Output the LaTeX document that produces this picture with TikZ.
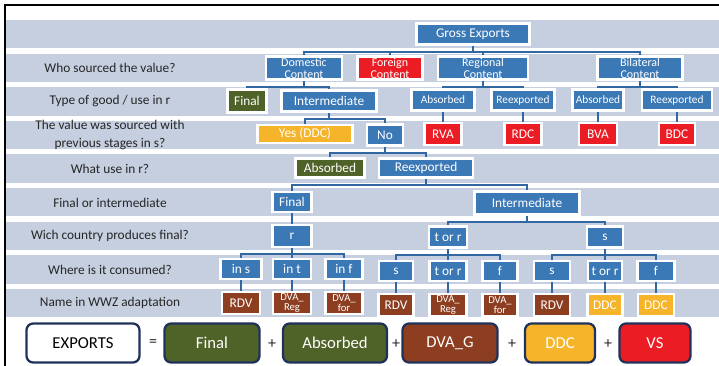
\documentclass[tikz,border=0pt]{standalone}
\usepackage{fontspec}
\setmainfont{Carlito}
\definecolor{bandgray}{RGB}{197,207,223}
\definecolor{boxblue}{RGB}{59,120,182}
\definecolor{linkblue}{RGB}{50,104,162}
\definecolor{boxgreen}{RGB}{79,98,40}
\definecolor{boxred}{RGB}{236,28,36}
\definecolor{boxyellow}{RGB}{245,180,42}
\definecolor{boxbrown}{RGB}{142,62,32}
\definecolor{navyline}{RGB}{33,50,90}
\definecolor{labeltext}{RGB}{38,38,38}
\pgfdeclarelayer{bands}
\pgfdeclarelayer{links}
\pgfsetlayers{bands,links,main}

\begin{document}
\begin{tikzpicture}[x=0.75pt,y=0.75pt,yscale=-1,xscale=1,
  bw/.style={minimum width=#1*0.75pt},
  bh/.style={minimum height=#1*0.75pt},
  tree/.style={draw=white,line width=1.6pt,text=white,inner sep=1pt,align=center,bh=21,font=\fontsize{10}{9}\selectfont},
  bluebox/.style={tree,fill=boxblue},
  greenbox/.style={tree,fill=boxgreen},
  redbox/.style={tree,fill=boxred},
  yellowbox/.style={tree,fill=boxyellow},
  brownbox/.style={tree,fill=boxbrown,bh=22},
  twoline/.style={font=\fontsize{9}{9}\selectfont},
  smalltxt/.style={font=\fontsize{8.5}{9}\selectfont},
  dvatxt/.style={font=\fontsize{8}{7.5}\selectfont},
  qlabel/.style={text=labeltext,align=center,font=\fontsize{10}{13}\selectfont},
  sumbox/.style={draw=navyline,line width=1.7pt,rounded corners=5pt,text=white,bh=39,inner sep=1pt,font=\fontsize{12.5}{13}\selectfont},
  opsign/.style={text=labeltext,font=\fontsize{12}{13}\selectfont},
  conn/.style={draw=linkblue,line width=1.5pt}
]
\useasboundingbox (0,0) rectangle (719,366);

% frame and row bands
\draw [line width=0.8pt] (719,5) -- (5,5) -- (5,366);
\begin{pgfonlayer}{bands}
\foreach \i in {0,...,8}
  \fill [bandgray] (6,{20+33.6*\i}) rectangle (719,{48.5+33.6*\i});
\end{pgfonlayer}

% questions
\node [qlabel] (qsrc) at (110,68) {Who sourced the value?};
\node [qlabel] (qgood) at (110,101) {Type of good / use in r};
\node [qlabel] (qprev) at (110,135) {The value was sourced with\\previous stages in s?};
\node [qlabel] (quse) at (110,169) {What use in r?};
\node [qlabel] (qfin) at (110,203) {Final or intermediate};
\node [qlabel] (qctry) at (110,236) {Wich country produces final?};
\node [qlabel] (qcons) at (110,270) {Where is it consumed?};
\node [qlabel] (qname) at (110,303) {Name in WWZ adaptation};

% tree
\node [bluebox,bw=113] (gross) at (473,34) {Gross Exports};
\node [bluebox,bw=76,bh=23,twoline] (dom) at (304,68) {Domestic\\Content};
\node [redbox,bw=65,bh=23,twoline] (forn) at (390,68) {Foreign\\Content};
\node [bluebox,bw=90,bh=23,twoline] (regn) at (483,68) {Regional\\Content};
\node [bluebox,bw=85,bh=23,twoline] (bilat) at (640,68) {Bilateral\\Content};

\node [greenbox,bw=39,bh=23] (dfin) at (247,101) {Final};
\node [bluebox,bw=95] (dint) at (329,101) {Intermediate};
\node [bluebox,bw=63,smalltxt] (rabs) at (443,100) {Absorbed};
\node [bluebox,bw=63,smalltxt] (rrex) at (523,100) {Reexported};
\node [bluebox,bw=51,smalltxt] (babs) at (598,100) {Absorbed};
\node [bluebox,bw=70,smalltxt] (brex) at (677,100) {Reexported};

\node [yellowbox,bw=95,bh=18] (yes) at (305,134) {Yes (DDC)};
\node [bluebox,bw=36] (no) at (385,135) {No};
\node [redbox,bw=37,bh=22] (rva) at (443,134) {RVA};
\node [redbox,bw=37,bh=22] (rdc) at (523,134) {RDC};
\node [redbox,bw=38,bh=22] (bva) at (598,134) {BVA};
\node [redbox,bw=36,bh=22] (bdc) at (677,134) {BDC};

\node [greenbox,bw=69,bh=19] (nabs) at (330,168) {Absorbed};
\node [bluebox,bw=94,bh=19] (nrex) at (426,168) {Reexported};

\node [bluebox,bw=39,bh=20] (fin) at (292,202) {Final};
\node [bluebox,bw=105,bh=23] (intm) at (527,203) {Intermediate};

\node [bluebox,bw=39,bh=22] (rr) at (292,236) {r};
\node [bluebox,bw=38] (tr) at (448,237) {t or r};
\node [bluebox,bw=36] (ss) at (605,237) {s};

\node [bluebox,bw=41,bh=20] (ins) at (241,269) {in s};
\node [bluebox,bw=38,bh=20] (inn) at (292,269) {in t};
\node [bluebox,bw=37,bh=20] (inf) at (344,269) {in f};
\node [bluebox,bw=34,bh=20] (trs) at (396,271) {s};
\node [bluebox,bw=37,bh=20] (trt) at (448,271) {t or r};
\node [bluebox,bw=35,bh=20] (trf) at (500,271) {f};
\node [bluebox,bw=36,bh=20] (sss) at (552,271) {s};
\node [bluebox,bw=34,bh=20] (sst) at (605,271) {t or r};
\node [bluebox,bw=37,bh=20] (ssf) at (656,271) {f};

\node [brownbox,bw=38] (nm1) at (241,303) {RDV};
\node [brownbox,bw=38,dvatxt] (nm2) at (292,303) {DVA\_\\Reg};
\node [brownbox,bw=37,dvatxt] (nm3) at (344,303) {DVA\_\\for};
\node [brownbox,bw=35] (nm4) at (396,305) {RDV};
\node [brownbox,bw=37,dvatxt] (nm5) at (448,305) {DVA\_\\Reg};
\node [brownbox,bw=35,dvatxt] (nm6) at (500,305) {DVA\_\\for};
\node [brownbox,bw=36] (nm7) at (552,305) {RDV};
\node [yellowbox,bw=35,bh=22] (nm8) at (605,305) {DDC};
\node [yellowbox,bw=36,bh=22] (nm9) at (656,305) {DDC};

\begin{pgfonlayer}{links}
\foreach \a/\b in {gross/dom,gross/forn,gross/regn,gross/bilat,
    dom/dfin,dom/dint,regn/rabs,regn/rrex,bilat/babs,bilat/brex,
    dint/yes,dint/no,rabs/rva,rrex/rdc,babs/bva,brex/bdc,
    no/nabs,no/nrex,nrex/fin,nrex/intm,fin/rr,intm/tr,intm/ss,
    rr/ins,rr/inn,rr/inf,tr/trs,tr/trt,tr/trf,ss/sss,ss/sst,ss/ssf,
    ins/nm1,inn/nm2,inf/nm3,trs/nm4,trt/nm5,trf/nm6,sss/nm7,sst/nm8,ssf/nm9}
  \draw [conn] (\a.south) -- ++(0,6) -| (\b.north);
\end{pgfonlayer}

% decomposition
\node [sumbox,fill=white,text=black,bw=113] (exp) at (83,343) {EXPORTS};
\node [opsign] (eq) at (153,343) {=};
\node [sumbox,fill=boxgreen,bw=95] (sfin) at (212,343) {Final};
\node [opsign] (pl1) at (272,344) {+};
\node [sumbox,fill=boxgreen,bw=104] (sabs) at (335,343) {Absorbed};
\node [opsign] (pl2) at (396,344) {+};
\node [sumbox,fill=boxbrown,bw=95] (sdva) at (450,343) {DVA\_G};
\node [opsign] (pl3) at (512,344) {+};
\node [sumbox,fill=boxyellow,bw=70] (sddc) at (560,343) {DDC};
\node [opsign] (pl4) at (608,344) {+};
\node [sumbox,fill=boxred,bw=71] (svs) at (655,343) {VS};

\end{tikzpicture}
\end{document}
